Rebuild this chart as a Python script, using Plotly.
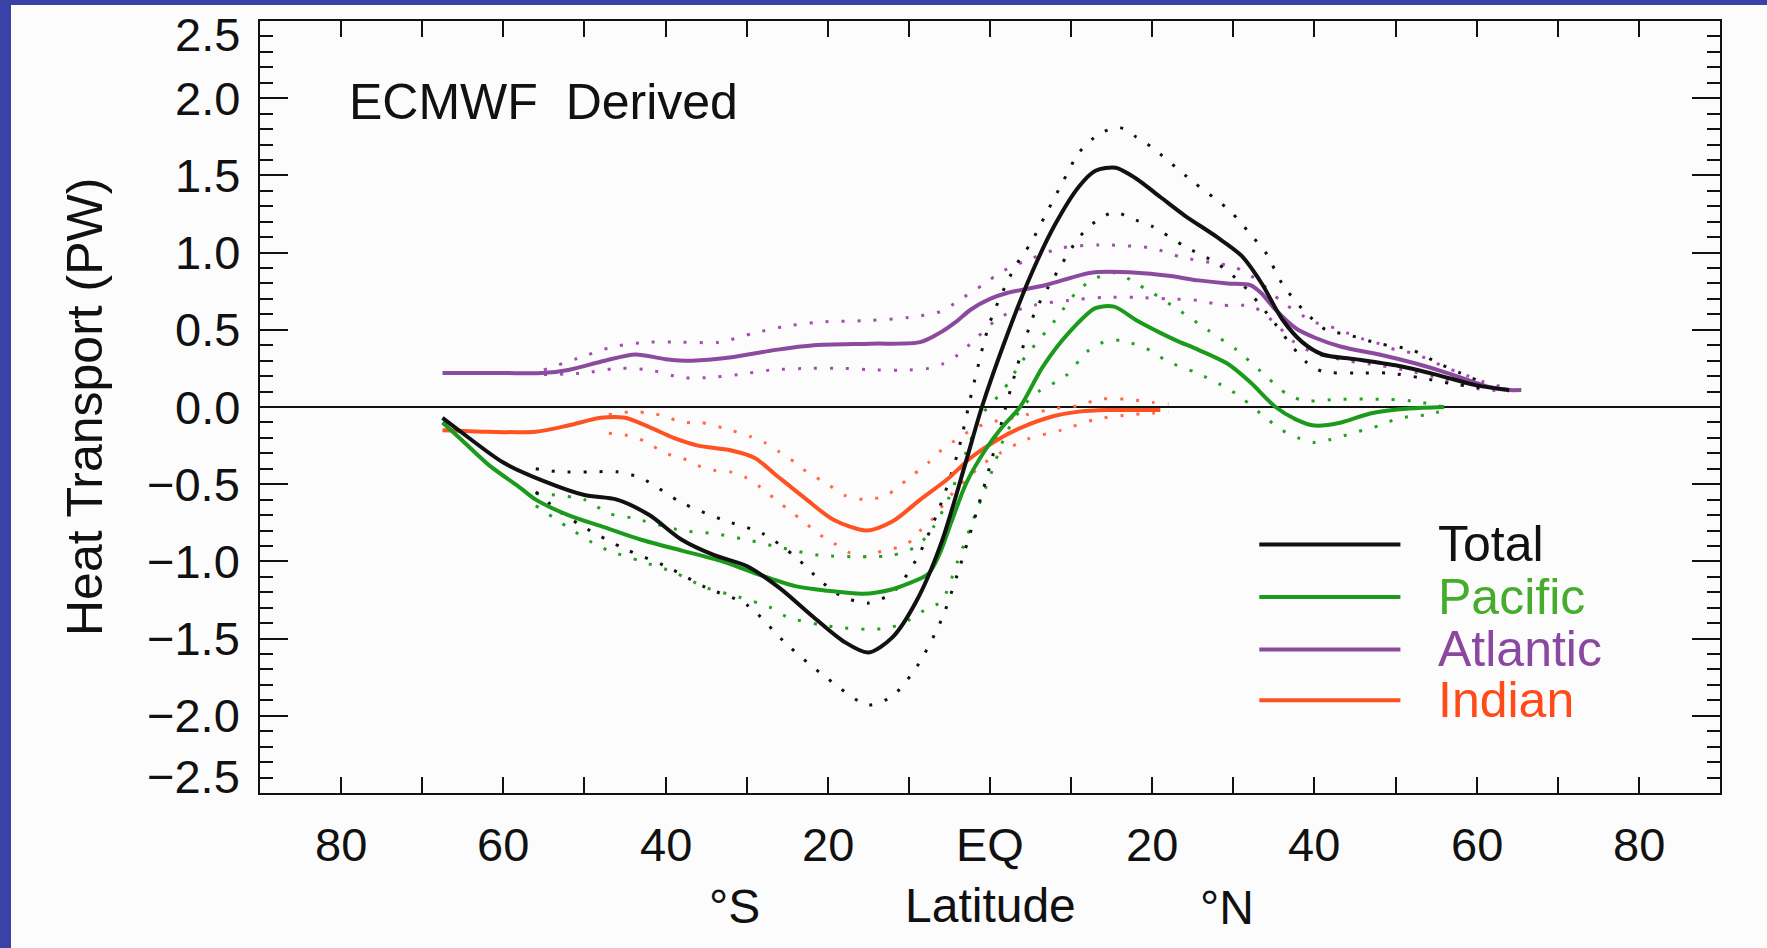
import plotly.graph_objects as go

# ---------------- data ----------------
# Total (black)
total_lat = [-67.5, -65, -60, -55, -50, -46, -42, -38, -34, -30, -26, -22, -18, -15, -12, -9, -6, -3, -1,
             2, 5, 8, 11, 13, 15.5, 18, 21, 24, 28, 31, 33.5, 36, 38.5, 41, 45, 50, 55, 60, 64]
total_val = [-0.07, -0.17, -0.36, -0.48, -0.57, -0.60, -0.70, -0.86, -0.96, -1.03, -1.17, -1.35, -1.52, -1.59,
             -1.49, -1.25, -0.88, -0.36, 0.0, 0.45, 0.85, 1.18, 1.43, 1.53, 1.55, 1.48, 1.36, 1.24, 1.10, 0.98,
             0.80, 0.57, 0.42, 0.34, 0.31, 0.27, 0.21, 0.14, 0.11]
total_up_lat = [-56, -53, -49, -46, -43, -38, -33, -28, -24, -21, -18.5, -15, -12, -9, -6, -4, -2, 0, 3, 5, 7,
                9, 11, 13.5, 16, 18, 20, 25, 29.6, 32.4, 34, 36, 38.6, 41.4, 44, 48, 52, 55.4, 58, 61]
total_up_val = [-0.40, -0.42, -0.42, -0.42, -0.46, -0.62, -0.73, -0.82, -0.97, -1.12, -1.22, -1.27, -1.20,
                -0.98, -0.62, -0.30, 0.15, 0.55, 0.90, 1.06, 1.26, 1.46, 1.65, 1.77, 1.81, 1.75, 1.68, 1.46,
                1.27, 1.10, 1.00, 0.80, 0.63, 0.50, 0.47, 0.41, 0.37, 0.28, 0.22, 0.15]
total_lo_lat = [-56, -53, -50, -45, -40, -35, -30, -25, -20, -15, -12, -9, -6, -4, -2, 0, 3, 5.5, 8, 11, 13,
                15.3, 18, 20, 24, 28, 31, 35, 37, 39, 41, 45, 49, 53, 57, 61]
total_lo_val = [-0.55, -0.68, -0.78, -0.92, -1.03, -1.17, -1.28, -1.54, -1.76, -1.93, -1.87, -1.68, -1.38,
                -1.08, -0.74, -0.38, 0.20, 0.61, 0.85, 1.10, 1.20, 1.26, 1.21, 1.17, 1.04, 0.93, 0.80, 0.55,
                0.41, 0.29, 0.23, 0.22, 0.22, 0.19, 0.15, 0.12]

# Pacific (green)
pac_lat = [-67.5, -65, -61.7, -58, -56, -52, -47.5, -43, -38, -33, -28.8, -24, -20, -15.7, -12, -10.9, -7.6,
           -6.2, -4.8, -2.9, -0.6, 1.5, 3.7, 6.5, 9.7, 13, 15.3, 18.1, 21, 23, 25.7, 29.3, 32.1, 35.2, 37.7,
           40, 43.3, 47, 51.7, 56]
pac_val = [-0.10, -0.22, -0.38, -0.52, -0.60, -0.70, -0.78, -0.86, -0.93, -1.00, -1.08, -1.16, -1.19, -1.21,
           -1.18, -1.16, -1.08, -0.95, -0.75, -0.49, -0.28, -0.13, 0.0, 0.26, 0.48, 0.64, 0.65, 0.56, 0.48,
           0.43, 0.37, 0.28, 0.16, 0.0, -0.08, -0.12, -0.10, -0.04, -0.01, 0.0]
pac_up_lat = [-56, -50, -47, -44, -38, -34, -30, -25, -21, -15, -12, -9, -7, -5, -3, -1, 1.5, 4, 8, 10.6,
              12.5, 15.5, 18, 20, 23.5, 26.8, 30.4, 33.4, 36.7, 39, 43, 48, 52, 56]
pac_up_val = [-0.56, -0.60, -0.69, -0.72, -0.80, -0.82, -0.86, -0.92, -0.96, -0.97, -0.96, -0.90, -0.78,
              -0.58, -0.30, -0.05, 0.10, 0.30, 0.56, 0.74, 0.82, 0.87, 0.80, 0.74, 0.62, 0.50, 0.37, 0.23,
              0.08, 0.04, 0.05, 0.05, 0.04, 0.0]
pac_lo_lat = [-56, -52, -49, -47, -43, -39, -35, -31, -27, -25, -21, -18, -15, -12.4, -10, -7.6, -6, -4, -2,
              0, 2, 4, 6, 9.3, 12, 14, 16.3, 20, 21.7, 25.5, 29.3, 31, 34, 36, 38, 40, 42, 44, 46, 48, 50,
              52, 54, 56]
pac_lo_val = [-0.64, -0.78, -0.88, -0.93, -1.00, -1.07, -1.17, -1.23, -1.30, -1.36, -1.41, -1.43, -1.44,
              -1.43, -1.38, -1.30, -1.26, -1.00, -0.72, -0.45, -0.17, 0.0, 0.10, 0.20, 0.36, 0.42, 0.43,
              0.36, 0.30, 0.22, 0.12, 0.06, -0.07, -0.15, -0.20, -0.23, -0.21, -0.18, -0.15, -0.12, -0.08,
              -0.06, -0.05, -0.02]

# Atlantic (purple)
atl_lat = [-67.5, -60, -55.3, -52, -47.5, -43.7, -40, -36.7, -32.1, -26.4, -21.7, -14.7, -8.6, -6.2, -4,
           -2.4, 0, 2.2, 6.9, 12.5, 18.1, 22, 25.7, 29.3, 32.1, 33.4, 35.2, 37.7, 40, 43.3, 48, 52.6, 56.4,
           59.7, 61.5, 64, 65.5]
atl_val = [0.22, 0.22, 0.22, 0.24, 0.30, 0.34, 0.31, 0.30, 0.32, 0.37, 0.40, 0.41, 0.42, 0.48, 0.56, 0.63,
           0.70, 0.74, 0.79, 0.87, 0.87, 0.85, 0.82, 0.80, 0.79, 0.74, 0.63, 0.51, 0.45, 0.39, 0.34, 0.28,
           0.22, 0.16, 0.13, 0.11, 0.11]
atl_up_lat = [-55, -50, -46.5, -42, -38, -33.4, -29, -25.5, -21, -15, -10, -6, -4.4, -2.4, -0.6, 1.2, 5, 8.8,
              13.5, 18, 20, 23.6, 27.8, 30, 33, 36, 40, 42, 44, 46, 48, 50, 52, 54, 56, 58, 61, 64]
atl_up_val = [0.24, 0.33, 0.39, 0.42, 0.42, 0.42, 0.48, 0.52, 0.55, 0.56, 0.58, 0.62, 0.67, 0.74, 0.80, 0.87,
              0.96, 1.03, 1.05, 1.04, 1.03, 0.97, 0.93, 0.91, 0.82, 0.68, 0.55, 0.52, 0.48, 0.44, 0.41, 0.37,
              0.35, 0.31, 0.26, 0.22, 0.16, 0.12]
atl_lo_lat = [-55, -50, -46, -42, -38, -35, -31, -27, -22, -18, -14, -10, -7.6, -5.8, -3.9, -1.6, 1.2, 5.5,
              9.7, 14, 18, 22, 25.7, 28.5, 32.4, 35.2, 37.5, 40, 44, 48, 52, 56, 60, 64]
atl_lo_val = [0.21, 0.22, 0.25, 0.24, 0.19, 0.19, 0.21, 0.24, 0.25, 0.25, 0.24, 0.24, 0.25, 0.28, 0.34, 0.45,
              0.58, 0.66, 0.69, 0.71, 0.71, 0.70, 0.69, 0.66, 0.65, 0.54, 0.42, 0.35, 0.30, 0.27, 0.23, 0.18,
              0.12, 0.10]

# Indian (orange)
ind_lat = [-67.5, -62, -56, -52, -48, -45, -42, -39, -36, -32, -29, -26.4, -22.6, -19.3, -15.2, -12, -8.6,
           -5.3, -2.4, 1, 4, 7.8, 11, 14.4, 21]
ind_val = [-0.15, -0.16, -0.16, -0.12, -0.07, -0.07, -0.13, -0.20, -0.25, -0.28, -0.33, -0.44, -0.60, -0.73,
           -0.80, -0.74, -0.60, -0.47, -0.33, -0.21, -0.13, -0.06, -0.03, -0.02, -0.02]
ind_up_lat = [-47, -44, -42, -40, -38, -35.7, -32, -29.6, -27.8, -26, -24, -22.6, -20, -18, -15.2, -12.7,
              -11.4, -9.5, -7.6, -6, -4.4, -2, 0, 2, 4.5, 8, 11, 13.5, 17, 20, 22]
ind_up_val = [-0.05, -0.03, -0.04, -0.06, -0.10, -0.10, -0.15, -0.19, -0.23, -0.29, -0.36, -0.42, -0.50,
              -0.57, -0.60, -0.57, -0.52, -0.44, -0.36, -0.28, -0.22, -0.14, -0.10, -0.08, -0.05, -0.01,
              0.01, 0.05, 0.05, 0.03, 0.02]
ind_lo_lat = [-47, -44.2, -42.3, -40, -38, -36, -34, -32, -30, -28.3, -26.4, -24.5, -23, -21.2, -19.3,
              -17.5, -15.2, -13.2, -11.4, -9.5, -8.6, -7, -5.3, -3, -0.6, 1.2, 4.5, 8.8, 13, 17.3, 20, 22]
ind_lo_val = [-0.17, -0.19, -0.23, -0.30, -0.33, -0.38, -0.41, -0.42, -0.46, -0.52, -0.60, -0.68, -0.74,
              -0.82, -0.88, -0.94, -0.97, -0.93, -0.91, -0.86, -0.80, -0.72, -0.60, -0.47, -0.36, -0.30,
              -0.21, -0.15, -0.08, -0.05, -0.04, -0.03]

series_names = ["Total", "Pacific", "Atlantic", "Indian"]

# axis ticks / labels
x_tick_vals = [-80, -60, -40, -20, 0, 20, 40, 60, 80]
x_tick_text = ["80", "60", "40", "20", "EQ", "20", "40", "60", "80"]
y_tick_vals = [2.5, 2.0, 1.5, 1.0, 0.5, 0.0, -0.5, -1.0, -1.5, -2.0, -2.5]
y_tick_text = ["2.5", "2.0", "1.5", "1.0", "0.5", "0.0", "\u22120.5", "\u22121.0", "\u22121.5", "\u22122.0",
               "\u22122.5"]

# ---------------- style ----------------
FONT = "Liberation Sans, Arial, sans-serif"
BG = "#FCFCFD"
BLUE = "#3A42A8"
line_colors = {"Total": "#111111", "Pacific": "#1C9A1C", "Atlantic": "#8B4A9E", "Indian": "#FF5222"}
dot_colors = {"Total": "#111111", "Pacific": "#22A022", "Atlantic": "#A050AA", "Indian": "#FF6A4A"}
text_colors = {"Total": "#111111", "Pacific": "#45AC2C", "Atlantic": "#8A48A0", "Indian": "#FF4A1A"}

W, H = 1767, 948
L, R, T, B = 260, 47, 21, 155
PW, PH = W - L - R, H - T - B

fig = go.Figure()

data = {
    "Total": (total_lat, total_val, total_up_lat, total_up_val, total_lo_lat, total_lo_val),
    "Pacific": (pac_lat, pac_val, pac_up_lat, pac_up_val, pac_lo_lat, pac_lo_val),
    "Atlantic": (atl_lat, atl_val, atl_up_lat, atl_up_val, atl_lo_lat, atl_lo_val),
    "Indian": (ind_lat, ind_val, ind_up_lat, ind_up_val, ind_lo_lat, ind_lo_val),
}

# dotted bounds first (drawn underneath)
for name in ["Indian", "Atlantic", "Pacific", "Total"]:
    lat, val, ulat, uval, llat, lval = data[name]
    for bx, by in ((ulat, uval), (llat, lval)):
        fig.add_trace(go.Scatter(
            x=bx, y=by, mode="lines", showlegend=False, hoverinfo="skip",
            line=dict(color=dot_colors[name], width=3, dash="3px,13px", shape="spline", smoothing=0.8),
        ))

for name in ["Atlantic", "Indian", "Pacific", "Total"]:
    lat, val = data[name][0], data[name][1]
    fig.add_trace(go.Scatter(
        x=lat, y=val, mode="lines", name=name, showlegend=False,
        line=dict(color=line_colors[name], width=4, shape="spline", smoothing=0.8),
    ))

annotations = []
# y tick labels
for v, t in zip(y_tick_vals, y_tick_text):
    ys = 0
    if v == max(y_tick_vals):
        ys = -13
    elif v == min(y_tick_vals):
        ys = 17
    annotations.append(dict(x=(242 - L) / PW, xref="paper", y=v, yref="y", text=t, showarrow=False,
                            xanchor="right", yanchor="middle", yshift=ys,
                            font=dict(family=FONT, size=47, color="#111111")))
# x tick labels
for v, t in zip(x_tick_vals, x_tick_text):
    annotations.append(dict(x=v, xref="x", y=0, yref="paper", text=t, showarrow=False,
                            xanchor="center", yanchor="middle", yshift=-51,
                            font=dict(family=FONT, size=47, color="#111111")))
# axis titles
annotations.append(dict(x=0, xref="x", y=0, yref="paper", text="Latitude", showarrow=False,
                        xanchor="center", yanchor="middle", yshift=-112,
                        font=dict(family=FONT, size=48, color="#111111")))
annotations.append(dict(x=-31.5, xref="x", y=0, yref="paper", text="\u00b0S", showarrow=False,
                        xanchor="center", yanchor="middle", yshift=-113,
                        font=dict(family=FONT, size=48, color="#111111")))
annotations.append(dict(x=29.2, xref="x", y=0, yref="paper", text="\u00b0N", showarrow=False,
                        xanchor="center", yanchor="middle", yshift=-114,
                        font=dict(family=FONT, size=48, color="#111111")))
annotations.append(dict(x=(85 - L) / PW, xref="paper", y=0.5, yref="paper", text="Heat Transport (PW)",
                        showarrow=False, textangle=-90, xanchor="center", yanchor="middle",
                        font=dict(family=FONT, size=50, color="#111111")))
# panel title
annotations.append(dict(x=-79.3, xref="x", y=1.975, yref="y", text="ECMWF  Derived", showarrow=False,
                        xanchor="left", yanchor="middle",
                        font=dict(family=FONT, size=50, color="#111111")))

# legend (drawn manually: long line samples + coloured labels)
legend_y = [-0.89, -1.23, -1.57, -1.90]
shapes = []
for name, ly in zip(series_names, legend_y):
    shapes.append(dict(type="line", xref="x", yref="y", x0=33.2, x1=50.6, y0=ly, y1=ly,
                       line=dict(color=line_colors[name], width=4)))
    annotations.append(dict(x=55.0, xref="x", y=ly, yref="y", text=name, showarrow=False,
                            xanchor="left", yanchor="middle",
                            font=dict(family=FONT, size=50, color=text_colors[name])))

# blue page frame on the left and top
shapes.append(dict(type="rect", xref="paper", yref="paper", layer="above",
                   x0=(-5 - L) / PW, x1=(11 - L) / PW, y0=(PH + T - H - 5) / PH, y1=(PH + T + 5) / PH,
                   line=dict(width=0), fillcolor=BLUE))
shapes.append(dict(type="rect", xref="paper", yref="paper", layer="above",
                   x0=(-5 - L) / PW, x1=(W + 5 - L) / PW, y0=(PH + T - 5) / PH, y1=(PH + T + 5) / PH,
                   line=dict(width=0), fillcolor=BLUE))

fig.update_layout(
    width=W, height=H,
    margin=dict(l=L, r=R, t=T, b=B, pad=0),
    paper_bgcolor=BG, plot_bgcolor=BG,
    showlegend=False,
    annotations=annotations,
    shapes=shapes,
    font=dict(family=FONT, color="#111111"),
    xaxis=dict(range=[-90, 90], tickmode="linear", tick0=-90, dtick=10, ticks="inside", ticklen=16,
               tickwidth=2, tickcolor="#111111", showticklabels=False, showgrid=False, zeroline=False,
               showline=True, linecolor="#111111", linewidth=2, mirror="ticks"),
    yaxis=dict(range=[-2.5, 2.5], tickmode="linear", tick0=0, dtick=0.5, ticks="inside", ticklen=28,
               tickwidth=2, tickcolor="#111111", showticklabels=False, showgrid=False,
               zeroline=True, zerolinecolor="#111111", zerolinewidth=2,
               showline=True, linecolor="#111111", linewidth=2, mirror="ticks",
               minor=dict(dtick=0.1, ticks="inside", ticklen=13, tickwidth=2, tickcolor="#111111",
                          showgrid=False)),
)

fig.write_html("out.html", config={"displayModeBar": False},
               post_script="document.body.style.margin='0';document.body.style.overflow='hidden';")
